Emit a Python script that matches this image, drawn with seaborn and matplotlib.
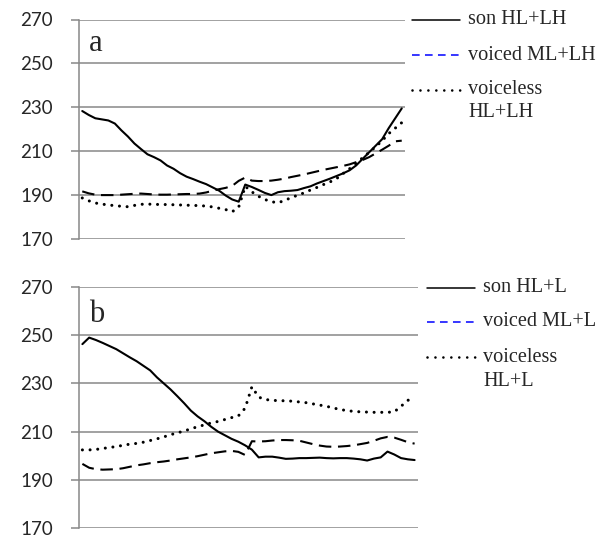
import numpy as np
import pandas as pd
import matplotlib
matplotlib.use('Agg')
import matplotlib.pyplot as plt
import seaborn as sns
from matplotlib.lines import Line2D

sns.set_style('white')

# 数据
ticks = [170, 190, 210, 230, 250, 270]
n_points = 50

# 上图 a
son_hl_lh = [228.3, 226.5, 225.0, 224.5, 224.0, 222.6, 219.5, 216.7, 213.5, 211.0,
             208.6, 207.3, 205.8, 203.5, 202.0, 200.0, 198.4, 197.3, 196.1, 195.0,
             193.5, 192.0, 189.8, 188.0, 187.0, 194.8, 193.7, 192.4, 191.0, 190.0,
             191.3, 191.8, 192.0, 192.3, 193.2, 194.0, 195.3, 196.4, 197.5, 198.7,
             199.9, 201.3, 203.5, 206.5, 209.5, 212.5, 215.5, 220.5, 225.0, 229.5]
voiced_ml_lh = [191.7, 190.8, 190.2, 190.0, 190.0, 190.0, 190.2, 190.4, 190.6, 190.7,
                190.5, 190.3, 190.2, 190.2, 190.3, 190.4, 190.5, 190.5, 190.7, 191.2,
                192.0, 192.7, 193.3, 194.2, 196.5, 198.0, 196.6, 196.4, 196.4, 196.6,
                197.0, 197.5, 198.2, 198.8, 199.4, 200.1, 200.8, 201.5, 202.1, 202.7,
                203.3, 204.0, 205.0, 206.0, 207.3, 209.0, 210.7, 212.5, 214.5, 214.8]
voiceless_hl_lh = [188.7, 187.4, 186.4, 185.9, 185.5, 185.2, 184.9, 184.7, 185.3, 185.8,
                   185.9, 185.8, 185.7, 185.7, 185.6, 185.5, 185.4, 185.3, 185.2, 185.0,
                   184.6, 184.0, 183.4, 182.4, 184.6, 194.0, 191.5, 189.5, 188.0, 187.0,
                   186.5, 187.5, 188.8, 189.9, 191.0, 192.3, 193.5, 194.8, 196.0, 197.5,
                   199.8, 202.0, 204.5, 207.0, 209.5, 212.0, 214.8, 218.0, 220.5, 223.0]

# 下图 b
son_hl_l = [246.3, 249.0, 248.0, 246.8, 245.5, 244.2, 242.5, 240.8, 239.2, 237.3,
            235.4, 232.5, 230.0, 227.5, 224.7, 221.8, 218.7, 216.3, 214.3, 212.0,
            210.0, 208.5, 207.0, 205.8, 204.3, 202.5, 199.3, 199.6, 199.6, 199.2,
            198.7, 198.8, 199.0, 199.0, 199.1, 199.2, 199.0, 198.9, 199.0, 199.0,
            198.8, 198.5, 198.0, 198.8, 199.3, 201.7, 200.5, 199.0, 198.5, 198.2]
voiced_ml_l = [196.6, 195.0, 194.4, 194.2, 194.3, 194.4, 194.8, 195.4, 196.0, 196.4,
               196.9, 197.3, 197.6, 198.0, 198.5, 198.9, 199.3, 199.8, 200.4, 201.0,
               201.4, 201.8, 202.0, 201.6, 200.3, 206.0, 205.9, 206.0, 206.3, 206.5,
               206.5, 206.4, 206.2, 205.5, 204.8, 204.2, 203.8, 203.7, 203.8, 204.0,
               204.3, 204.8, 205.3, 206.2, 207.2, 207.8, 207.5, 206.6, 205.6, 205.0]
voiceless_hl_l = [202.4, 202.4, 202.6, 203.0, 203.4, 203.8, 204.3, 204.8, 205.1, 205.6,
                  206.3, 207.0, 207.8, 208.7, 209.5, 210.2, 211.2, 212.0, 212.8, 213.6,
                  214.2, 215.0, 215.8, 216.5, 219.7, 228.6, 224.3, 223.3, 223.0, 222.8,
                  222.8, 222.6, 222.3, 222.0, 221.5, 221.0, 220.5, 219.8, 219.2, 218.7,
                  218.4, 218.2, 218.1, 218.0, 218.0, 218.0, 218.2, 220.5, 223.0, 223.5]

labels_a = ['son HL+LH', 'voiced ML+LH', 'voiceless', 'HL+LH']
labels_b = ['son HL+L', 'voiced ML+L', 'voiceless', 'HL+L']

x = np.arange(n_points)
W, H = 608, 537
fig = plt.figure(figsize=(W / 100, H / 100), dpi=100)

grid_color = '#888888'
serif = ['Liberation Serif', 'DejaVu Serif']
tick_font = ['Lato', 'DejaVu Sans']


def px_box(x0, y0, x1, y1):
    return [x0 / W, 1 - y1 / H, (x1 - x0) / W, (y1 - y0) / H]


def draw_panel(ax, son, voiced, voiceless, letter):
    lw = 1.5
    sns.lineplot(x=x, y=son, ax=ax, color='black', lw=lw)
    sns.lineplot(x=x, y=voiced, ax=ax, color='black', lw=lw)
    ax.lines[-1].set_dashes((6, 3.2))
    sns.lineplot(x=x, y=voiceless, ax=ax, color='black', lw=2.2)
    ax.lines[-1].set_dashes((0.01, 2.5))
    ax.lines[-1].set_dash_capstyle('round')
    ax.set_xlim(-0.5, n_points - 0.5)
    ax.set_ylim(170, 270)
    ax.set_yticks(ticks)
    ax.set_xticks([])
    ax.yaxis.grid(True, color=grid_color, lw=1.1)
    ax.set_axisbelow(True)
    for s in ['top', 'right', 'bottom']:
        ax.spines[s].set_visible(False)
    ax.spines['left'].set_color(grid_color)
    ax.spines['left'].set_linewidth(1.1)
    ax.tick_params(axis='y', left=True, length=5.8, width=1.1, color=grid_color,
                   pad=13, labelsize=13.5)
    for t in ax.get_yticklabels():
        t.set_family(tick_font)
    ax.text(0.029, 0.855, letter, transform=ax.transAxes, fontsize=22,
            family=serif, va='baseline')


def draw_legend(labels, x0, x1, xt, ys):
    styles = [dict(color='black', ls='-', lw=1.1),
              dict(color='blue', ls=(0, (5, 3.5)), lw=1.1),
              dict(color='black', ls=(0, (0.01, 3.0)), dash_capstyle='round', lw=1.9)]
    for i, st in enumerate(styles):
        fig.add_artist(Line2D([x0 / W, x1 / W], [1 - ys[i] / H] * 2,
                              transform=fig.transFigure, **st))
    for lab, y in zip(labels, ys):
        fig.text(xt / W, 1 - y / H, lab, fontsize=14.6, family=serif, va='center')


ax1 = fig.add_axes(px_box(79, 19.5, 405, 239))
draw_panel(ax1, son_hl_lh, voiced_ml_lh, voiceless_hl_lh, 'a')
draw_legend(labels_a, 412, 460, 468, [19.5, 55, 89.5, 113])

ax2 = fig.add_axes(px_box(79, 287, 418, 528))
draw_panel(ax2, son_hl_l, voiced_ml_l, voiceless_hl_l, 'b')
draw_legend(labels_b, 427, 475, 483, [288, 322, 357, 381])

fig.savefig('out.png', dpi=100)
